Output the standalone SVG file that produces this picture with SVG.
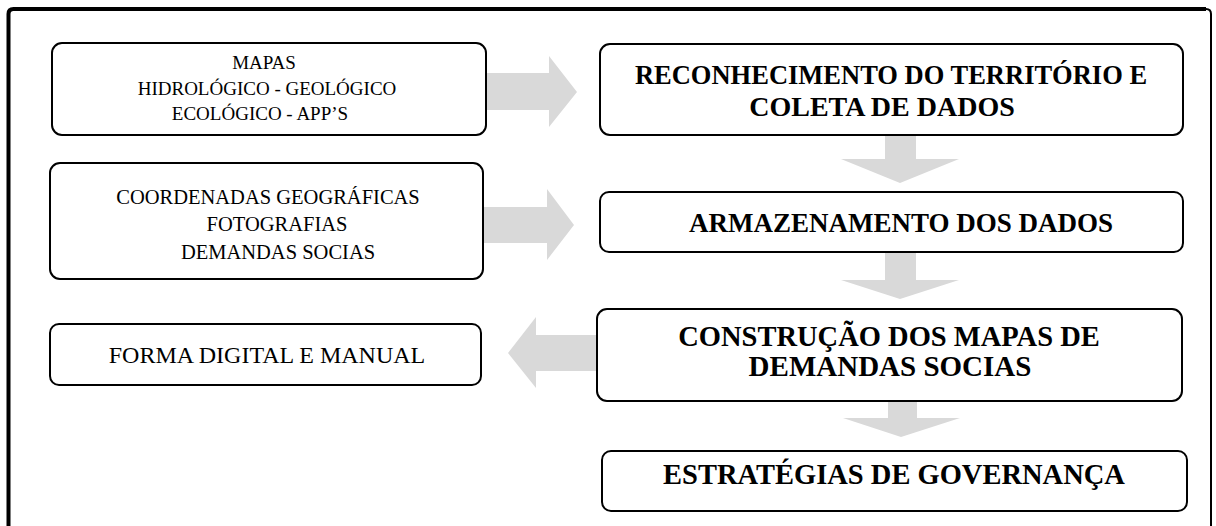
<svg xmlns="http://www.w3.org/2000/svg" width="1216" height="526" viewBox="0 0 1216 526">
<style>
.box{fill:#fff;stroke:#000;stroke-width:2}
.arr{fill:#d9d9d9}
.t{font-family:"Liberation Serif","Times New Roman",serif;fill:#000;text-anchor:middle}
.b{font-weight:bold}
</style>
<rect width="1216" height="526" fill="#fff"/>
<g id="frame">
<path d="M8.5,530 V14 Q8.5,9 13.5,9 H1206" fill="none" stroke="#000" stroke-width="4"/>
<path d="M1206,9 Q1211,9 1211,14 V530" fill="none" stroke="#000" stroke-width="2"/>
</g>
<g id="connectors">
<polygon class="arr" points="487,73 549,73 549,56 577,92 549,127 549,110 487,110"/>
<polygon class="arr" points="484,207 547,207 547,189 574,225 547,260 547,243 484,243"/>
<polygon class="arr" points="597,335 536,335 536,317 508,353 536,388 536,371 597,371"/>
<polygon class="arr" points="885,135 916,135 916,159 959,159 900,183 841,159 885,159"/>
<polygon class="arr" points="885,252 916,252 916,280 959,280 900,299 841,280 885,280"/>
<polygon class="arr" points="888,401 917,401 917,418 960,418 901,437 843,418 888,418"/>
</g>
<g id="mapas">
<rect class="box" x="52" y="43" width="434" height="92" rx="10"/>
<text class="t" font-size="19"><tspan x="264" y="69">MAPAS</tspan><tspan x="267" y="94.5">HIDROLÓGICO - GEOLÓGICO</tspan><tspan x="260" y="120">ECOLÓGICO - APP’S</tspan></text>
</g>
<g id="coordenadas">
<rect class="box" x="50" y="163" width="433" height="116" rx="10"/>
<text class="t" font-size="20.5"><tspan x="268" y="204">COORDENADAS GEOGRÁFICAS</tspan><tspan x="277" y="231">FOTOGRAFIAS</tspan><tspan x="278" y="258.5">DEMANDAS SOCIAS</tspan></text>
</g>
<g id="forma">
<rect class="box" x="50" y="324" width="431" height="61" rx="9"/>
<text class="t" font-size="24" x="267" y="363">FORMA DIGITAL E MANUAL</text>
</g>
<g id="reconhecimento">
<rect class="box" x="600" y="44" width="583" height="91" rx="10"/>
<text class="t b" font-size="26.5" x="891" y="84">RECONHECIMENTO DO TERRITÓRIO E</text>
<text class="t b" font-size="28" x="882" y="115.5">COLETA DE DADOS</text>
</g>
<g id="armazenamento">
<rect class="box" x="600" y="192" width="583" height="60" rx="9"/>
<text class="t b" font-size="27" x="901" y="232">ARMAZENAMENTO DOS DADOS</text>
</g>
<g id="construcao">
<rect class="box" x="597" y="309" width="585" height="92" rx="10"/>
<text class="t b" font-size="28.5" x="889" y="346">CONSTRUÇÃO DOS MAPAS DE</text>
<text class="t b" font-size="29" x="890" y="376">DEMANDAS SOCIAS</text>
</g>
<g id="estrategias">
<rect class="box" x="602" y="451" width="585" height="60" rx="9"/>
<text class="t b" font-size="28.5" x="894" y="484">ESTRATÉGIAS DE GOVERNANÇA</text>
</g>
</svg>
